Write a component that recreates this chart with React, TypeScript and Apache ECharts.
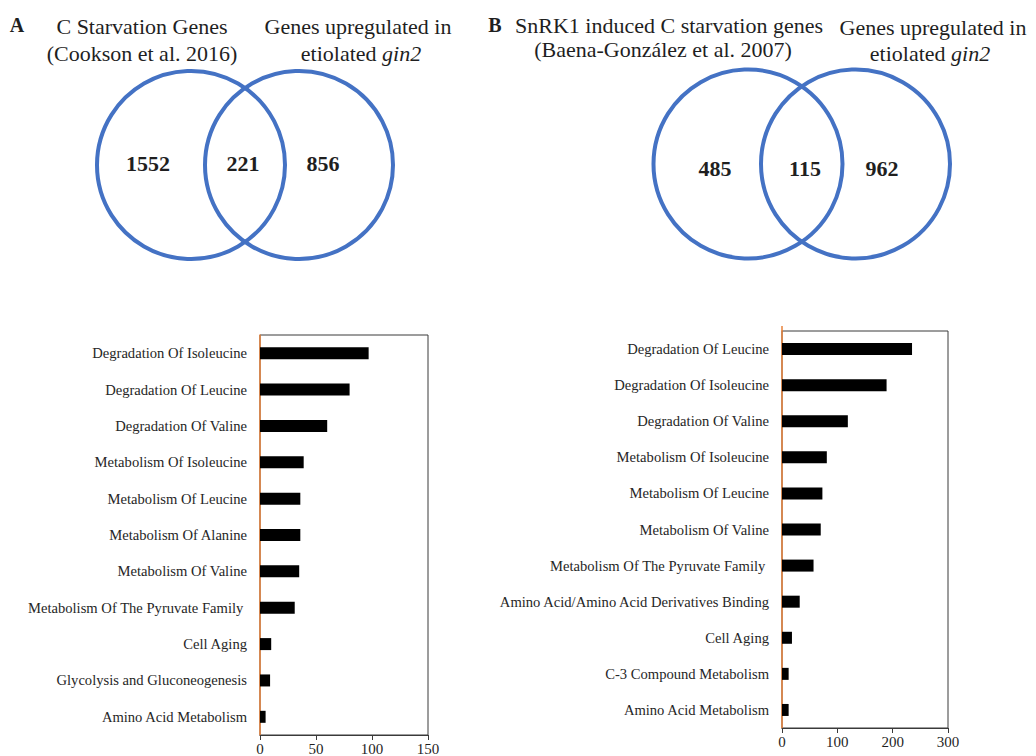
import React, { useEffect, useRef } from "react";
import * as echarts from "echarts";

// Enrichment categories and gene counts, panel A (top to bottom)
const categoriesA = [
  "Degradation Of Isoleucine",
  "Degradation Of Leucine",
  "Degradation Of Valine",
  "Metabolism Of Isoleucine",
  "Metabolism Of Leucine",
  "Metabolism Of Alanine",
  "Metabolism Of Valine",
  "Metabolism Of The Pyruvate Family ",
  "Cell Aging",
  "Glycolysis and Gluconeogenesis",
  "Amino Acid Metabolism",
];
const valuesA = [97, 80, 60, 39, 36, 36, 35, 31, 10, 9, 5];

// Enrichment categories and gene counts, panel B (top to bottom)
const categoriesB = [
  "Degradation Of Leucine",
  "Degradation Of Isoleucine",
  "Degradation Of Valine",
  "Metabolism Of Isoleucine",
  "Metabolism Of Leucine",
  "Metabolism Of Valine",
  "Metabolism Of The Pyruvate Family ",
  "Amino Acid/Amino Acid Derivatives Binding",
  "Cell Aging",
  "C-3 Compound Metabolism",
  "Amino Acid Metabolism",
];
const valuesB = [235, 189, 119, 81, 73, 70, 57, 32, 18, 12, 12];

// Venn counts: [left only, overlap, right only]
const vennA = [1552, 221, 856];
const vennB = [485, 115, 962];

// Axis ticks
const ticksA = { max: 150, interval: 50 };
const ticksB = { max: 300, interval: 100 };

const SERIF = "Liberation Serif, Times New Roman, serif";
const TEXT = "#1f1f1f";
const BLUE = "#4472C4";
const ORANGE = "#E8823A";
const FRAME = "#3a3a3a";

function title(x: number, y: number, text: string, extra: any = {}) {
  return {
    type: "text",
    x,
    y,
    style: {
      text,
      fontFamily: SERIF,
      fontSize: 22,
      fill: TEXT,
      align: "center",
      verticalAlign: "middle",
      ...extra,
    },
  };
}

function italicTitle(x: number, y: number) {
  return {
    type: "text",
    x,
    y,
    style: {
      text: "{n|etiolated }{i|gin2}",
      align: "center",
      verticalAlign: "middle",
      rich: {
        n: { fontFamily: SERIF, fontSize: 22, fill: TEXT },
        i: { fontFamily: SERIF, fontSize: 22, fill: TEXT, fontStyle: "italic" },
      },
    },
  };
}

function circle(cx: number, cy: number, r: number) {
  return {
    type: "circle",
    shape: { cx, cy, r },
    style: { fill: "none", stroke: BLUE, lineWidth: 4 },
  };
}

function count(x: number, y: number, v: number) {
  return title(x, y, String(v), { fontWeight: "bold" });
}

function xAxisFor(gridIndex: number, t: { max: number; interval: number }) {
  return {
    type: "value",
    gridIndex,
    min: 0,
    max: t.max,
    interval: t.interval,
    splitLine: { show: false },
    axisLine: { show: true, lineStyle: { color: FRAME, width: 1 } },
    axisTick: { show: true, inside: false, length: 5, lineStyle: { color: FRAME } },
    axisLabel: { fontFamily: SERIF, fontSize: 15, color: TEXT, margin: 6 },
  };
}

function yAxisFor(gridIndex: number, cats: string[]) {
  return {
    type: "category",
    gridIndex,
    data: cats,
    inverse: true,
    axisLine: { show: true, lineStyle: { color: ORANGE, width: 1.5 } },
    axisTick: { show: false },
    axisLabel: { fontFamily: SERIF, fontSize: 14.6, color: "#262626", margin: 13 },
  };
}

function barSeries(idx: number, vals: number[]) {
  return {
    type: "bar",
    xAxisIndex: idx,
    yAxisIndex: idx,
    data: vals,
    barWidth: 12,
    itemStyle: { color: "#000000" },
  };
}

export default function App() {
  const ref = useRef<HTMLDivElement>(null);

  useEffect(() => {
    if (!ref.current) return;
    const chart = echarts.init(ref.current, null, { renderer: "svg" });
    chart.setOption({
      animation: false,
      backgroundColor: "#ffffff",
      grid: [
        {
          left: 260,
          top: 335,
          width: 168,
          height: 400,
          show: true,
          borderColor: FRAME,
          borderWidth: 1,
          backgroundColor: "transparent",
        },
        {
          left: 782,
          top: 331,
          width: 166,
          height: 397,
          show: true,
          borderColor: FRAME,
          borderWidth: 1,
          backgroundColor: "transparent",
        },
      ],
      xAxis: [xAxisFor(0, ticksA), xAxisFor(1, ticksB)],
      yAxis: [yAxisFor(0, categoriesA), yAxisFor(1, categoriesB)],
      series: [barSeries(0, valuesA), barSeries(1, valuesB)],
      graphic: [
        // Panel letters
        title(17, 25, "A", { fontWeight: "bold", fontSize: 20 }),
        title(495, 25, "B", { fontWeight: "bold", fontSize: 20 }),
        // Panel A headings
        title(142, 26, "C Starvation Genes"),
        title(142, 53, "(Cookson et al. 2016)"),
        title(358, 26, "Genes upregulated in"),
        italicTitle(361, 53),
        // Panel B headings
        title(669, 25, "SnRK1 induced C starvation genes"),
        title(663, 49, "(Baena-Gonz\u00e1lez et al. 2007)"),
        title(933, 27, "Genes upregulated in"),
        italicTitle(930, 53),
        // Venn A
        circle(191, 165, 94),
        circle(299, 165, 94),
        count(148, 163, vennA[0]),
        count(243, 163, vennA[1]),
        count(323, 163, vennA[2]),
        // Venn B
        circle(748, 164, 94.5),
        circle(855.5, 164, 94.5),
        count(715, 168, vennB[0]),
        count(805, 168, vennB[1]),
        count(882, 168, vennB[2]),
        // orange axis line rising just above the panel B frame
        {
          type: "line",
          shape: { x1: 782, y1: 326, x2: 782, y2: 331 },
          style: { stroke: ORANGE, lineWidth: 1.5 },
        },
      ],
    });
    return () => chart.dispose();
  }, []);

  return (
    <div
      ref={ref}
      style={{ position: "absolute", left: 0, top: 0, width: 1036, height: 756 }}
    />
  );
}
